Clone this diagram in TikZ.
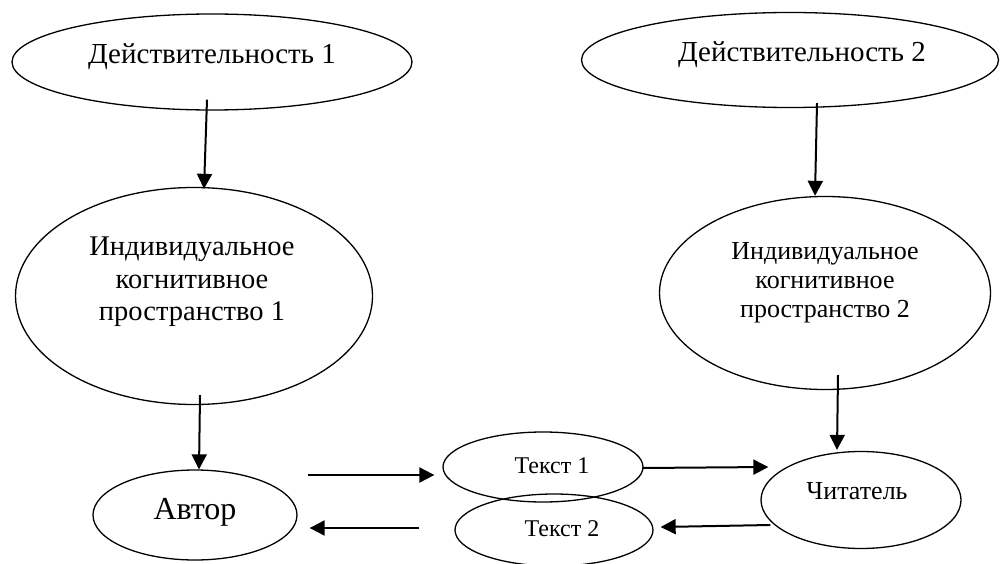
\documentclass[tikz,border=0pt]{standalone}
\usepackage{fontspec}
\setmainfont{Liberation Serif}
\usetikzlibrary{shapes.geometric,arrows.meta}
\begin{document}
\begin{tikzpicture}[x=1pt,y=-1pt,
  ell/.style={draw,ellipse,line width=1.3pt,inner sep=0pt},
  txt/.style={align=center,inner sep=0pt},
  arr/.style={line width=2pt,-{Triangle[length=15pt,width=15pt]}}]
\useasboundingbox (0,0) rectangle (1000,564);
\node[ell,minimum width=400pt,minimum height=96pt,
  label={[txt,font=\fontsize{29}{32}\selectfont,yshift=5pt]center:Действительность 1}] (d1) at (212,62) {};
\node[ell,minimum width=417pt,minimum height=95pt,
  label={[txt,font=\fontsize{29}{32}\selectfont,xshift=12pt,yshift=5pt]center:Действительность 2}] (d2) at (790,60) {};
\node[ell,minimum width=357pt,minimum height=217pt,
  label={[txt,font=\fontsize{28.5}{32.5}\selectfont,xshift=-2pt,yshift=14pt]center:{Индивидуальное\\когнитивное\\пространство 1}}] (k1) at (194,296) {};
\node[ell,minimum width=331pt,minimum height=193pt,
  label={[txt,font=\fontsize{26}{29}\selectfont,yshift=10pt]center:{Индивидуальное\\когнитивное\\пространство 2}}] (k2) at (825,293) {};
\node[ell,minimum width=204pt,minimum height=90pt,
  label={[txt,font=\fontsize{32}{36}\selectfont,yshift=3pt]center:Автор}] (avtor) at (195,515) {};
\node[ell,minimum width=200pt,minimum height=70pt,
  label={[txt,font=\fontsize{24}{28}\selectfont,xshift=9pt,yshift=1pt]center:Текст 1}] (t1) at (543,467) {};
\node[ell,minimum width=198pt,minimum height=72pt,
  label={[txt,font=\fontsize{24}{28}\selectfont,xshift=8pt,yshift=1pt]center:Текст 2}] (t2) at (554,530) {};
\node[ell,minimum width=200pt,minimum height=97pt,
  label={[txt,font=\fontsize{26}{30}\selectfont,xshift=-4pt,yshift=9pt]center:Читатель}] (chit) at (861,500) {};
\draw[arr] ([shift={(-5,-11)}]d1.south) -- ([shift={(10,2)}]k1.north);
\draw[arr] ([shift={(6,-10)}]k1.south) -- ([shift={(4,0)}]avtor.north);
\draw[arr] ([shift={(27,-5)}]d2.south) -- ([shift={(-10,0)}]k2.north);
\draw[arr] ([shift={(13,-15)}]k2.south) -- ([shift={(-24,-1)}]chit.north);
\draw[arr] ([shift={(10,-40)}]avtor.east) -- ([shift={(-8,8)}]t1.west);
\draw[arr] ([shift={(-35,-2)}]t2.west) -- ([shift={(12,13)}]avtor.east);
\draw[arr] ([shift={(-1,1)}]t1.east) -- ([shift={(8,-33)}]chit.west);
\draw[arr] ([shift={(10,25)}]chit.west) -- ([shift={(7,-3)}]t2.east);
\end{tikzpicture}
\end{document}
